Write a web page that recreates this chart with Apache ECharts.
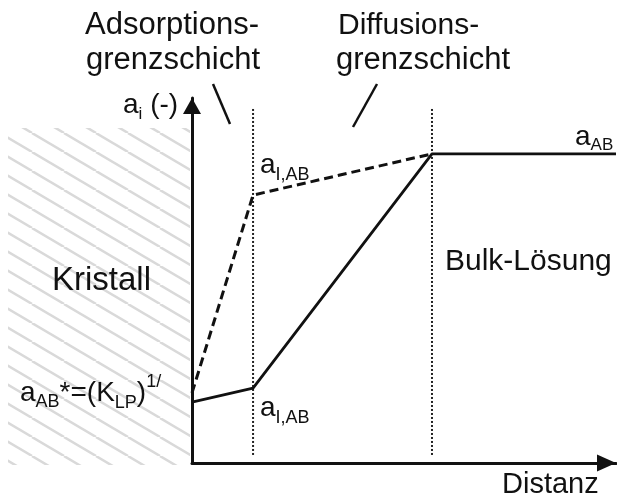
<!DOCTYPE html>
<html>
<head>
<meta charset="utf-8">
<script src="https://cdn.jsdelivr.net/npm/echarts@6/dist/echarts.min.js"></script>
<style>
  html, body { margin: 0; padding: 0; background: #fff; }
  #chart { width: 617px; height: 499px; }
</style>
</head>
<body>
<div id="chart"></div>
<script>
// Distance from the crystal surface (0) to the bulk solution
const distance = [0, 14.4, 56.6, 100];
// Activity profile through both boundary layers (solid)
const activityProfile = [16.7, 20.5, 84.7, 84.7];
// Activity profile when the adsorption layer limits transport (dashed)
const distanceDashed = [0, 14.4, 56.6];
const activityDashed = [19.2, 73.4, 84.7];
// Boundaries of the adsorption and diffusion layers (dotted verticals)
const boundaries = [14.4, 56.6];
const boundarySpan = [2.2, 97.5];

const FONT = '"Liberation Sans", Arial, Helvetica, sans-serif';
const INK = '#111';
const meas = document.createElement('canvas').getContext('2d');

// Lay out a run of text pieces (with sub/superscripts) on a common baseline
function textRun(x, baseline, pieces) {
  const out = [];
  let cx = x;
  pieces.forEach(function (p) {
    const font = p.size + 'px ' + FONT;
    meas.font = font;
    out.push({
      type: 'text',
      x: cx,
      y: baseline + (p.dy || 0) - 0.35 * p.size,
      silent: true,
      style: { text: p.t, font: font, fill: INK, textAlign: 'left', verticalAlign: 'middle', textVerticalAlign: 'middle' }
    });
    cx += meas.measureText(p.t).width;
  });
  return out;
}

// Diagonal hatching tile for the crystal region
function hatchTile() {
  const w = 32, h = 19;
  const c = document.createElement('canvas');
  c.width = w; c.height = h;
  const g = c.getContext('2d');
  g.strokeStyle = '#d9d9d9';
  g.lineWidth = 2.4;
  [-w, 0, w].forEach(function (dx) {
    g.beginPath();
    g.moveTo(dx, 0);
    g.lineTo(dx + w, h);
    g.stroke();
  });
  return c;
}

const chart = echarts.init(document.getElementById('chart'), null, { renderer: 'canvas' });

const axisCommon = {
  type: 'value',
  min: 0,
  max: 100,
  axisTick: { show: false },
  axisLabel: { show: false },
  splitLine: { show: false }
};

const series = [];
boundaries.forEach(function (b) {
  series.push({
    type: 'line',
    data: [[b, boundarySpan[0]], [b, boundarySpan[1]]],
    symbol: 'none',
    silent: true,
    z: 1,
    lineStyle: { color: '#222', width: 2, type: [2, 2] }
  });
});
series.push({
  type: 'line',
  data: distanceDashed.map(function (d, i) { return [d, activityDashed[i]]; }),
  symbol: 'none',
  silent: true,
  clip: false,
  z: 3,
  lineStyle: { color: INK, width: 3, type: [9, 5] }
});
series.push({
  type: 'line',
  data: distance.map(function (d, i) { return [d, activityProfile[i]]; }),
  symbol: 'none',
  silent: true,
  clip: false,
  z: 4,
  lineStyle: { color: INK, width: 2.8 }
});

const graphic = [
  {
    type: 'rect',
    z: -10,
    silent: true,
    shape: { x: 8, y: 128, width: 182, height: 337 },
    style: { fill: { image: hatchTile(), repeat: 'repeat' } }
  },
  { type: 'line', silent: true, shape: { x1: 213, y1: 84, x2: 230, y2: 124 }, style: { stroke: INK, lineWidth: 2.5 } },
  { type: 'line', silent: true, shape: { x1: 377, y1: 84, x2: 353, y2: 127 }, style: { stroke: INK, lineWidth: 2.5 } }
].concat(
  textRun(85, 36, [{ t: 'Adsorptions-', size: 31 }]),
  textRun(86, 71, [{ t: 'grenzschicht', size: 31 }]),
  textRun(338, 36, [{ t: 'Diffusions-', size: 30 }]),
  textRun(336, 71, [{ t: 'grenzschicht', size: 31 }]),
  textRun(123, 115, [{ t: 'a', size: 28 }, { t: 'i', size: 17, dy: 5 }, { t: ' (-)', size: 28 }]),
  textRun(260, 175, [{ t: 'a', size: 28 }, { t: 'I,AB', size: 18, dy: 6 }]),
  textRun(260, 418, [{ t: 'a', size: 28 }, { t: 'I,AB', size: 18, dy: 6 }]),
  textRun(575, 147, [{ t: 'a', size: 28 }, { t: 'AB', size: 17, dy: 4 }]),
  textRun(20, 403, [
    { t: 'a', size: 28 }, { t: 'AB', size: 18, dy: 5 },
    { t: '*=(K', size: 28 }, { t: 'LP', size: 18, dy: 6 },
    { t: ')', size: 28 }, { t: '1/', size: 18, dy: -15 }
  ]),
  textRun(52, 292, [{ t: 'Kristall', size: 33 }]),
  textRun(445, 272, [{ t: 'Bulk-Lösung', size: 30 }]),
  textRun(502, 495, [{ t: 'Distanz', size: 29 }])
);

chart.setOption({
  animation: false,
  backgroundColor: '#fff',
  grid: { left: 192, right: 1, top: 98, bottom: 36 },
  xAxis: Object.assign({}, axisCommon, {
    axisLine: {
      show: true, onZero: false,
      symbol: ['none', 'triangle'], symbolSize: [17, 19], symbolOffset: [0, -9.5],
      lineStyle: { color: INK, width: 3 }
    }
  }),
  yAxis: Object.assign({}, axisCommon, {
    axisLine: {
      show: true, onZero: false,
      symbol: ['none', 'triangle'], symbolSize: [18, 16], symbolOffset: [0, -8],
      lineStyle: { color: INK, width: 3 }
    }
  }),
  series: series,
  graphic: graphic
});
</script>
</body>
</html>
